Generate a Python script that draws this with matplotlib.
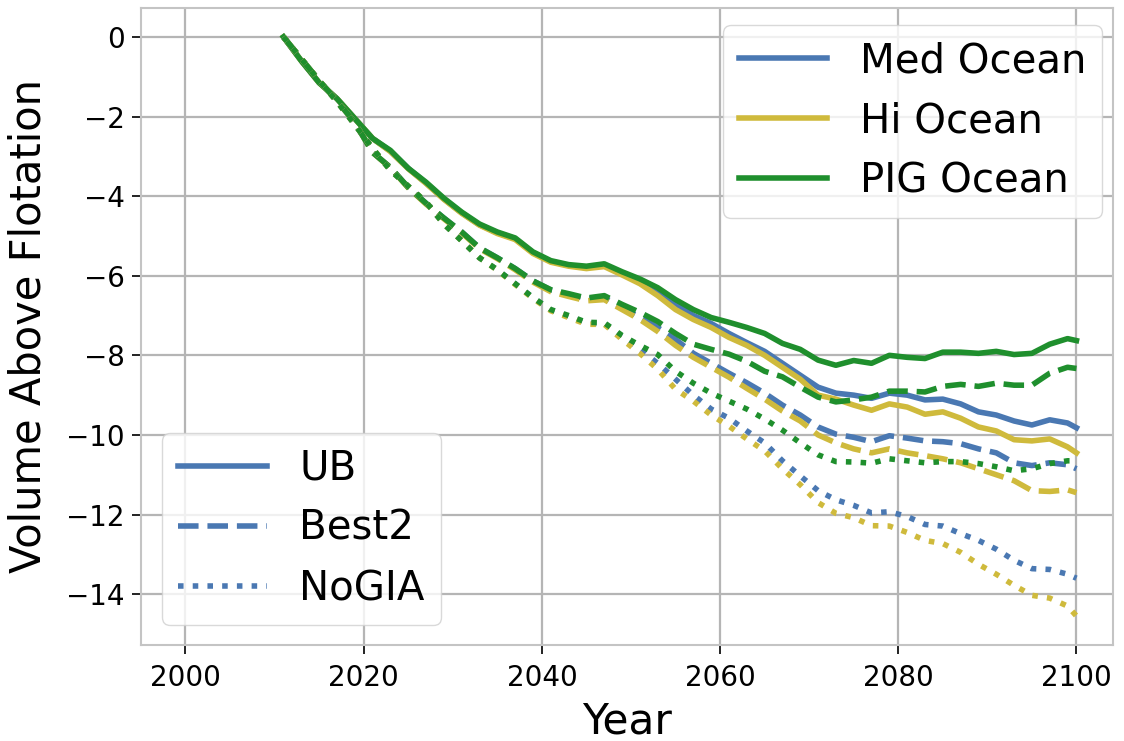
import matplotlib
matplotlib.use("Agg")
import matplotlib.pyplot as plt
from matplotlib.lines import Line2D

# Model years (every second year from 2011, plus the final year)
years = list(range(2011, 2100, 2)) + [2100]

# Volume above flotation change, UB bed
ub_med = [0, -0.6, -1.15, -1.55, -2.05, -2.55, -2.87, -3.3, -3.67, -4.07, -4.42, -4.72, -4.92, -5.07,
          -5.42, -5.64, -5.74, -5.8, -5.74, -5.93, -6.12, -6.4, -6.7, -7.0, -7.2, -7.45, -7.68,
          -7.9, -8.2, -8.5, -8.8, -8.95, -9.0, -9.08, -8.95, -9.0, -9.12, -9.1, -9.22, -9.42,
          -9.5, -9.65, -9.75, -9.62, -9.7, -9.82]
ub_hi = [0, -0.6, -1.15, -1.55, -2.05, -2.55, -2.88, -3.31, -3.68, -4.08, -4.43, -4.73, -4.94, -5.09,
         -5.44, -5.66, -5.76, -5.82, -5.77, -5.98, -6.2, -6.5, -6.85, -7.1, -7.3, -7.55, -7.75,
         -8.0, -8.3, -8.6, -9.0, -9.1, -9.25, -9.38, -9.22, -9.3, -9.48, -9.42, -9.58, -9.8,
         -9.9, -10.12, -10.15, -10.1, -10.3, -10.45]
ub_pig = [0, -0.6, -1.15, -1.55, -2.05, -2.55, -2.85, -3.3, -3.65, -4.05, -4.4, -4.7, -4.9, -5.05,
          -5.4, -5.62, -5.72, -5.76, -5.7, -5.9, -6.08, -6.3, -6.6, -6.85, -7.05, -7.17, -7.3,
          -7.45, -7.7, -7.85, -8.12, -8.25, -8.13, -8.2, -8.0, -8.05, -8.08, -7.92, -7.92, -7.95,
          -7.9, -7.98, -7.95, -7.72, -7.58, -7.63]

# Best2 bed
best2_med = [0, -0.55, -1.1, -1.6, -2.15, -2.9, -3.28, -3.78, -4.18, -4.55, -4.9, -5.3, -5.55, -5.82,
             -6.13, -6.36, -6.47, -6.58, -6.55, -6.8, -7.05, -7.3, -7.6, -7.95, -8.2, -8.45, -8.69,
             -8.95, -9.25, -9.5, -9.8, -9.98, -10.06, -10.17, -10.02, -10.08, -10.15, -10.17,
             -10.22, -10.35, -10.45, -10.7, -10.77, -10.7, -10.75, -10.85]
best2_hi = [0, -0.55, -1.1, -1.6, -2.15, -2.9, -3.29, -3.79, -4.2, -4.57, -4.92, -5.32, -5.57, -5.85,
            -6.16, -6.4, -6.52, -6.63, -6.6, -6.85, -7.1, -7.4, -7.75, -8.05, -8.3, -8.55, -8.83,
            -9.1, -9.4, -9.65, -10.0, -10.2, -10.35, -10.45, -10.35, -10.45, -10.52, -10.6,
            -10.7, -10.85, -11.0, -11.15, -11.4, -11.42, -11.38, -11.45]
best2_pig = [0, -0.55, -1.1, -1.6, -2.15, -2.9, -3.28, -3.78, -4.18, -4.55, -4.9, -5.3, -5.55, -5.82,
             -6.13, -6.35, -6.45, -6.56, -6.5, -6.72, -6.92, -7.15, -7.45, -7.72, -7.85, -7.97,
             -8.15, -8.4, -8.54, -8.8, -9.05, -9.17, -9.12, -9.05, -8.9, -8.9, -8.92, -8.78,
             -8.73, -8.78, -8.7, -8.75, -8.75, -8.45, -8.3, -8.33]

# Without glacial isostatic adjustment
nogia_med = [0, -0.55, -1.1, -1.62, -2.2, -2.8, -3.35, -3.75, -4.15, -4.7, -5.12, -5.55, -5.85, -6.2,
             -6.55, -6.86, -7.02, -7.2, -7.2, -7.55, -7.85, -8.2, -8.6, -9.0, -9.35, -9.58, -9.9,
             -10.2, -10.65, -11.03, -11.4, -11.63, -11.77, -11.96, -11.93, -12.05, -12.25, -12.29,
             -12.48, -12.65, -12.87, -13.15, -13.36, -13.38, -13.5, -13.6]
nogia_hi = [0, -0.55, -1.1, -1.62, -2.2, -2.8, -3.35, -3.75, -4.15, -4.7, -5.12, -5.55, -5.86, -6.22,
            -6.57, -6.88, -7.05, -7.22, -7.22, -7.6, -7.95, -8.35, -8.85, -9.15, -9.5, -9.78,
            -10.1, -10.4, -10.85, -11.25, -11.7, -11.97, -12.08, -12.28, -12.29, -12.45, -12.65,
            -12.73, -12.95, -13.25, -13.5, -13.78, -14.03, -14.1, -14.3, -14.55]
nogia_pig = [0, -0.55, -1.1, -1.62, -2.2, -2.8, -3.35, -3.75, -4.15, -4.7, -5.12, -5.55, -5.85, -6.2,
             -6.55, -6.85, -7.0, -7.17, -7.18, -7.5, -7.75, -7.98, -8.4, -8.7, -8.95, -9.15, -9.35,
             -9.6, -9.88, -10.2, -10.5, -10.67, -10.68, -10.71, -10.6, -10.65, -10.7, -10.67,
             -10.67, -10.72, -10.8, -10.9, -10.85, -10.72, -10.65, -10.65]

ocean_labels = ["Med Ocean", "Hi Ocean", "PIG Ocean"]
bed_labels = ["UB", "Best2", "NoGIA"]

blue = "#4a78b2"
yellow = "#cfba3c"
green = "#1f8f2d"
ocean_colors = [blue, yellow, green]
bed_styles = ["-", "--", ":"]

series = {
    "UB": [ub_med, ub_hi, ub_pig],
    "Best2": [best2_med, best2_hi, best2_pig],
    "NoGIA": [nogia_med, nogia_hi, nogia_pig],
}

plt.rcParams["font.family"] = ["DejaVu Sans"]

fig = plt.figure(figsize=(11.24, 7.41), dpi=100)
ax = fig.add_axes([0.1254, 0.1296, 0.8648, 0.8596])

lw = 4.0
for bed, style in zip(bed_labels, bed_styles):
    for vals, color in zip(series[bed], ocean_colors):
        ax.plot(years, vals, color=color, linestyle=style, linewidth=lw)

ax.set_xlim(1995.0, 2104.1)
ax.margins(y=0.05)
ax.set_xticks([2000, 2020, 2040, 2060, 2080, 2100])
ax.set_yticks([0, -2, -4, -6, -8, -10, -12, -14])
ax.set_yticklabels(["0", "\u22122", "\u22124", "\u22126", "\u22128", "\u221210", "\u221212", "\u221214"])

ax.grid(True, color="#b5b5b5", linewidth=1.6)
ax.set_axisbelow(True)
for sp in ax.spines.values():
    sp.set_color("#c4c4c4")
    sp.set_linewidth(1.5)
ax.tick_params(axis="both", labelsize=20, length=6.5, width=1.4, color="#222222")
ax.tick_params(axis="x", pad=7)
ax.tick_params(axis="y", pad=5)

ax.set_xlabel("Year", fontsize=30.5, labelpad=6)
ax.set_ylabel("Volume Above Flotation", fontsize=30, labelpad=12)

legend_kw = dict(fontsize=29, labelspacing=0.5, handlelength=2.2, borderpad=0.4,
                 borderaxespad=0.0, handletextpad=0.8)

ocean_handles = [Line2D([], [], color=c, linestyle="-", linewidth=lw) for c in ocean_colors]
leg1 = ax.legend(ocean_handles, ocean_labels, loc="upper right",
                 bbox_to_anchor=(0.9887, 0.973), **legend_kw)
leg1.get_frame().set_edgecolor("#d0d0d0")
ax.add_artist(leg1)

bed_handles = [Line2D([], [], color=blue, linestyle=s, linewidth=lw) for s in bed_styles]
leg2 = ax.legend(bed_handles, bed_labels, loc="lower left",
                 bbox_to_anchor=(0.022, 0.031), **legend_kw)
leg2.get_frame().set_edgecolor("#d0d0d0")

fig.savefig("out.png", dpi=100)
